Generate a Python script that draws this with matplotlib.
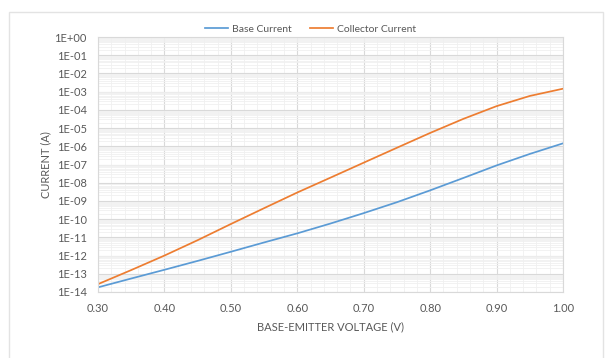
import matplotlib
matplotlib.use("Agg")
import matplotlib.pyplot as plt
from matplotlib.ticker import FixedLocator, FuncFormatter, MultipleLocator, LogLocator
from matplotlib.patches import Rectangle
import numpy as np

voltage = [0.30, 0.35, 0.40, 0.45, 0.50, 0.55, 0.60, 0.65, 0.70, 0.75, 0.80, 0.85, 0.90, 0.95, 1.00]
base_current = [1.8e-14, 5.5e-14, 1.66e-13, 5.1e-13, 1.62e-12, 5.25e-12, 1.66e-11, 5.75e-11, 2.14e-10,
                8.5e-10, 3.8e-09, 1.82e-08, 8.9e-08, 3.8e-07, 1.45e-06]
collector_current = [2.7e-14, 1.6e-13, 1.0e-12, 7.0e-12, 5.4e-11, 4.0e-10, 2.9e-09, 1.9e-08, 1.26e-07,
                     8.3e-07, 5.4e-06, 3.2e-05, 1.6e-04, 5.8e-04, 1.45e-03]
x_ticks = [0.30, 0.40, 0.50, 0.60, 0.70, 0.80, 0.90, 1.00]
y_exponents = list(range(-14, 1))

plt.rcParams['font.family'] = ['Lato', 'DejaVu Sans']

fig = plt.figure(figsize=(6.05, 3.58), dpi=100)
fig.patch.set_facecolor('white')
fig.patches.append(Rectangle((9/605, -0.05), (603-9)/605, 1 - 12/358 + 0.05,
                             transform=fig.transFigure, fill=False,
                             edgecolor='#E3E3E3', linewidth=1.0))

ax = fig.add_axes([98/605, 1 - 292/358, (563-98)/605, (292-37)/358])
ax.set_yscale('log')
ax.plot(voltage, base_current, color='#5B9BD5', lw=1.25, label='Base Current')
ax.plot(voltage, collector_current, color='#ED7D31', lw=1.25, label='Collector Current')

ax.set_xlim(0.30, 1.00)
ax.set_ylim(1e-14, 1e0)
ax.xaxis.set_major_locator(FixedLocator(x_ticks))
ax.xaxis.set_minor_locator(MultipleLocator(0.02))
ax.xaxis.set_major_formatter(FuncFormatter(lambda v, p: f"{v:.2f}"))
ax.yaxis.set_major_locator(FixedLocator([10.0**e for e in y_exponents]))
ax.yaxis.set_minor_locator(LogLocator(base=10, subs=np.arange(2, 10), numticks=100))

def yfmt(v, p):
    e = int(round(np.log10(v)))
    return f"1E{'+' if e >= 0 else '-'}{abs(e):02d}"
ax.yaxis.set_major_formatter(FuncFormatter(yfmt))

ax.grid(which='major', color='#D9D9D9', lw=0.8)
ax.grid(which='minor', color='#F0F0F0', lw=0.6)
ax.set_axisbelow(True)
for s in ax.spines.values():
    s.set_color('#D9D9D9')
    s.set_linewidth(0.8)
ax.tick_params(which='both', length=0, colors='#595959', labelsize=8)
ax.tick_params(axis='x', pad=8)
ax.tick_params(axis='y', pad=8)

ax.set_xlabel('BASE-EMITTER VOLTAGE (V)', fontsize=8, color='#595959', labelpad=5)
ax.set_ylabel('CURRENT (A)', fontsize=8, color='#595959', labelpad=2)

ax.legend(loc='lower center', bbox_to_anchor=(0.457, 0.995), ncol=2, frameon=False,
          fontsize=7.5, labelcolor='#595959', handlelength=2.2, columnspacing=1.8,
          borderaxespad=0.0, handletextpad=0.4)

fig.savefig('out.png', dpi=100, facecolor='white')
